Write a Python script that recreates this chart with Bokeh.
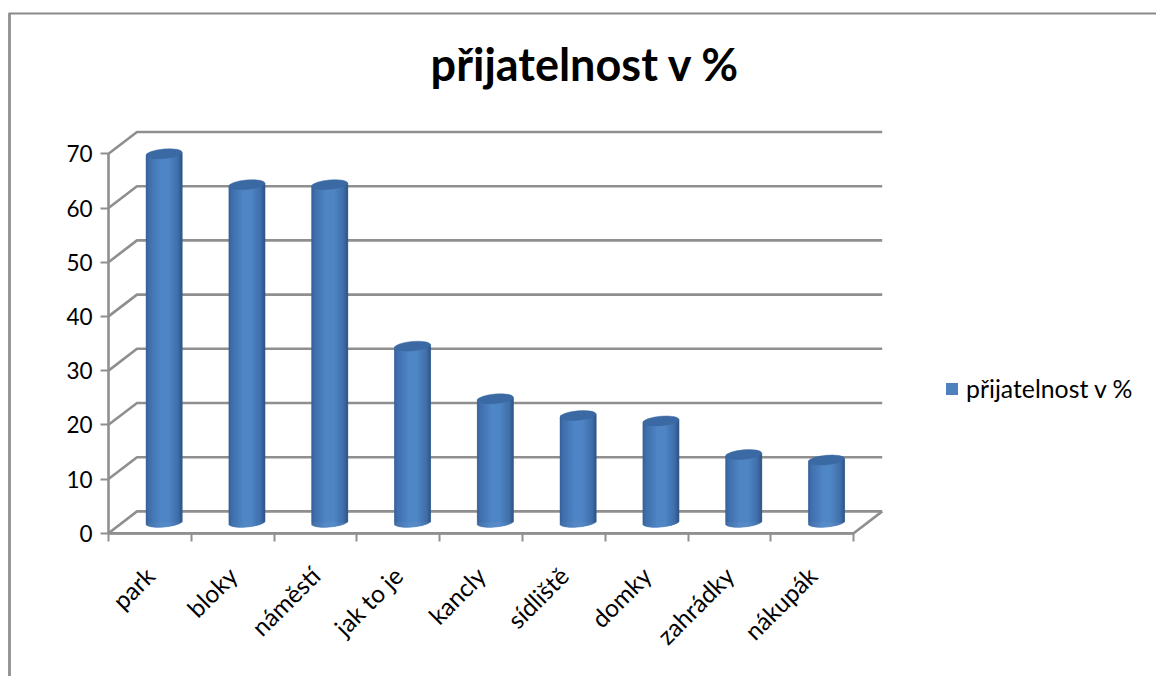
import math
from bokeh.plotting import figure
from bokeh.models import (FixedTicker, LinearAxis, Legend, LegendItem, Label)
from bokeh.embed import file_html
from bokeh.resources import INLINE

# ---- data
categories = ["park", "bloky", "náměstí", "jak to je", "kancly", "sídliště", "domky", "zahrádky", "nákupák"]
values = [68.0, 62.3, 62.3, 32.5, 22.8, 19.7, 18.7, 12.5, 11.5]
y_ticks = [0, 10, 20, 30, 40, 50, 60, 70]
title_text = "přijatelnost v %"
series_name = "přijatelnost v %"

# ---- layout calibration (pixels in the figure)
W, H = 1156, 676
FONT = "Lato"
PX_X = 82.8      # pixels per category
PX_Y = 5.42      # pixels per value unit
X0_PX, Y0_PX = 108.0, 532.7   # where x=0 / y=0 fall, from the figure's top-left
DEPTH_X = 28.5 / PX_X
DEPTH_Y = 21.8 / PX_Y
BAR_HALF = 18.0 / PX_X
CAP_B = 4.7 / PX_Y
TILT = 1.6 / PX_Y
GRID = "#8f8f8f"

x_start = -X0_PX / PX_X
x_end = (W - X0_PX) / PX_X
y_start = -(H - Y0_PX) / PX_Y
y_end = Y0_PX / PX_Y

p = figure(width=W, height=H, x_range=(x_start, x_end), y_range=(y_start, y_end),
           toolbar_location=None, output_backend="svg", min_border=0,
           outline_line_color=None, x_axis_type=None, y_axis_type=None)
p.grid.visible = False
p.background_fill_color = "white"

n = len(categories)

# page frame: left and top rules
p.line([x_start + 9 / PX_X] * 2, [y_start, y_end - 13 / PX_Y], line_color="#969696", line_width=3)
p.line([x_start + 8 / PX_X, x_end], [y_end - 13 / PX_Y] * 2, line_color="#8a8a8a", line_width=2)

# walls
for v in y_ticks:
    p.line([0, DEPTH_X, n + DEPTH_X], [v, v + DEPTH_Y, v + DEPTH_Y], line_color=GRID, line_width=2.6)
p.line([0, n, n + DEPTH_X], [0, 0, DEPTH_Y], line_color=GRID, line_width=2.6)

# axes
yax = LinearAxis(fixed_location=0, ticker=FixedTicker(ticks=y_ticks), bounds=(0, 70))
yax.axis_line_color = GRID; yax.axis_line_width = 2.6
yax.major_tick_line_color = GRID; yax.major_tick_line_width = 2
yax.major_tick_in = 0; yax.major_tick_out = 8
yax.minor_tick_line_color = None
yax.major_label_text_font = FONT; yax.major_label_text_font_size = "22.5px"
yax.major_label_text_color = "black"; yax.major_label_standoff = 8
p.add_layout(yax, "left")

centers = [i + 0.5 for i in range(n)]
xax = LinearAxis(fixed_location=0, ticker=FixedTicker(ticks=centers, minor_ticks=list(range(n + 1))),
                 bounds=(0, n))
xax.major_label_overrides = {c: lab for c, lab in zip(centers, categories)}
xax.axis_line_color = GRID; xax.axis_line_width = 2.6
xax.major_tick_line_color = None
xax.minor_tick_line_color = GRID; xax.minor_tick_line_width = 2
xax.minor_tick_in = 0; xax.minor_tick_out = 8
xax.major_label_orientation = math.pi / 4
xax.major_label_text_font = FONT; xax.major_label_text_font_size = "24.5px"
xax.major_label_text_color = "black"; xax.major_label_standoff = 30
p.add_layout(xax, "below")

# cylinders
cx = [c + DEPTH_X / 2 for c in centers]
base = DEPTH_Y / 2
swatch = p.quad(left=[c - BAR_HALF for c in cx], right=[c + BAR_HALF for c in cx],
                bottom=[base] * n, top=[base + v for v in values],
                fill_color="#4f81bd", line_color=None)

def hex_mix(a, b, t):
    ca = [int(a[i:i + 2], 16) for i in (1, 3, 5)]
    cb = [int(b[i:i + 2], 16) for i in (1, 3, 5)]
    return "#%02x%02x%02x" % tuple(round(x + (y - x) * t) for x, y in zip(ca, cb))

stops = [(-1.0, "#355f95"), (-0.85, "#3f6eaa"), (-0.2, "#5086c6"), (0.25, "#5086c6"),
         (0.8, "#3f6ea8"), (1.0, "#2e5482")]

def shade(u):
    for (u0, c0), (u1, c1) in zip(stops, stops[1:]):
        if u <= u1:
            return hex_mix(c0, c1, (u - u0) / (u1 - u0))
    return stops[-1][1]

N = 36
L, R, B, T, C = [], [], [], [], []
for c, v in zip(cx, values):
    for k in range(N):
        u0 = -1 + 2 * k / N
        u1 = -1 + 2 * (k + 1) / N
        um = (u0 + u1) / 2
        arc = CAP_B * math.sqrt(max(0, 1 - um * um))
        L.append(c + u0 * BAR_HALF); R.append(c + u1 * BAR_HALF)
        B.append(base - arc + TILT * um); T.append(base + v + TILT * um)
        C.append(shade(um))
p.quad(left=L, right=R, bottom=B, top=T, fill_color=C, line_color=C, line_width=0.6)

p.ellipse(x=cx, y=[base + v for v in values], width=2 * BAR_HALF, height=2 * CAP_B,
          angle=math.atan2(1.6, 18), fill_color="#3a69a3", line_color="#3a69a3", line_width=0.5)

# legend
legend = Legend(items=[LegendItem(label=series_name, renderers=[swatch])],
                location=(944, H - 403), orientation="vertical",
                glyph_width=15, glyph_height=15, label_standoff=7, padding=0, margin=0,
                border_line_color=None, background_fill_alpha=0,
                label_text_font=FONT, label_text_font_size="24.8px", label_text_color="black")
p.add_layout(legend, "center")

# title
p.add_layout(Label(x=585, y=H - 63, x_units="screen", y_units="screen", text=title_text,
                   text_font=FONT, text_font_style="bold", text_font_size="45px",
                   text_align="center", text_baseline="alphabetic", text_color="black"))

open("out.html", "w").write(file_html(p, INLINE))
